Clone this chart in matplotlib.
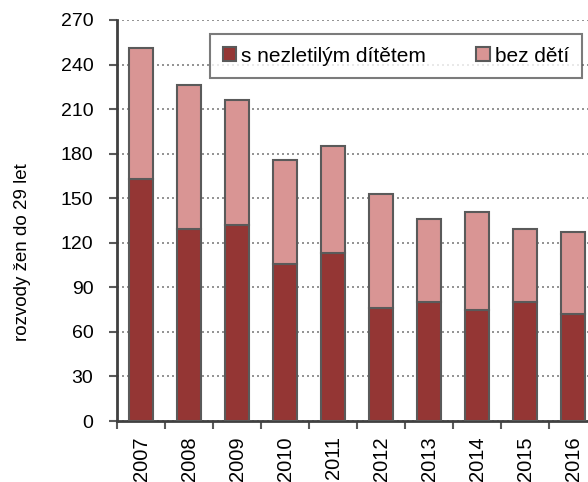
import matplotlib
matplotlib.use("Agg")
import matplotlib.pyplot as plt
import numpy as np

plt.rcParams['font.family'] = ['Liberation Sans', 'DejaVu Sans']

years = ["2007", "2008", "2009", "2010", "2011", "2012", "2013", "2014", "2015", "2016"]
s_ditetem = [163, 129, 132, 106, 113, 76, 80, 75, 80, 72]
celkem = [251, 226, 216, 176, 185, 153, 136, 141, 129, 127]
bez_deti = [c - s for c, s in zip(celkem, s_ditetem)]

dark = "#943634"
pink = "#D99594"
edge = "#5a5a5a"

fig = plt.figure(figsize=(5.88, 4.82), dpi=100)
# plot area runs a little past the right edge, like in the cropped original
ax = fig.add_axes([117 / 588, 61 / 482, 480 / 588, 401 / 482])

x = np.arange(len(years))
ax.bar(x, s_ditetem, width=0.5, color=dark, edgecolor=edge, linewidth=1.5,
       label="s nezletilým dítětem", zorder=3)
ax.bar(x, bez_deti, width=0.5, bottom=s_ditetem, color=pink, edgecolor=edge,
       linewidth=1.5, label="bez dětí", zorder=3)

ax.set_xlim(-0.5, len(years) - 0.5)
ax.set_ylim(0, 270)
ax.set_yticks(np.arange(0, 271, 30))
ax.yaxis.grid(True, linestyle=(0, (1.2, 1.8)), color="#808080", linewidth=1.2, zorder=0)

ax.set_xticks(x)
ax.set_xticklabels(years, rotation=90, fontsize=14.5)
ax.set_xticks(np.arange(-0.5, len(years), 1), minor=True)
ax.tick_params(axis="x", which="major", length=0, pad=11)
ax.tick_params(axis="x", which="minor", length=6, width=1.5, color=edge)
ax.tick_params(axis="y", length=6, width=1.5, color=edge, labelsize=14, pad=11)

for side in ["top", "right"]:
    ax.spines[side].set_visible(False)
for side in ["left", "bottom"]:
    ax.spines[side].set_color("#404040")
    ax.spines[side].set_linewidth(2)

fig.text(23 / 588, 1 - 252 / 482, "rozvody žen do 29 let", rotation=90,
         ha="center", va="center", fontsize=13.5)

leg = ax.legend(ncol=2, loc="upper left", bbox_to_anchor=((210 - 117) / 480, 1 - 14 / 401),
                borderaxespad=0, fontsize=15, frameon=True, fancybox=False,
                handlelength=0.65, handleheight=0.65, handletextpad=0.25,
                columnspacing=2.4, borderpad=0.6, edgecolor=edge)
leg.get_frame().set_linewidth(1.5)

fig.savefig("out.png", dpi=100)
